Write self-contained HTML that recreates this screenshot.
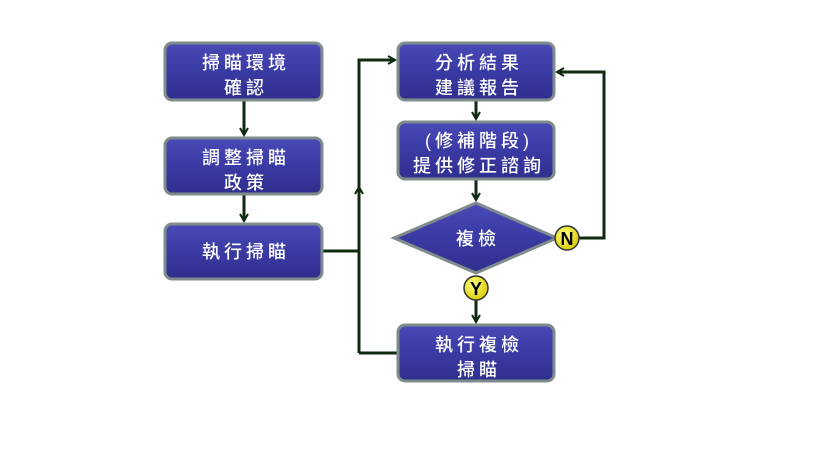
<!DOCTYPE html>
<html><head><meta charset="utf-8"><style>
html,body{margin:0;padding:0;background:#fff;width:819px;height:460px;overflow:hidden}
text{font-family:"Liberation Sans","Noto Sans CJK TC",sans-serif;font-size:18px;font-weight:500;fill:#fff;text-anchor:middle;letter-spacing:4px}
</style></head><body>
<svg width="819" height="460" viewBox="0 0 819 460" xmlns="http://www.w3.org/2000/svg">
<defs>
<linearGradient id="g" x1="0" y1="0" x2="0" y2="1">
<stop offset="0" stop-color="#4a4ab8"/><stop offset="0.5" stop-color="#3a3aa4"/><stop offset="1" stop-color="#2f2f8e"/>
</linearGradient>
<radialGradient id="y" cx="0.4" cy="0.35" r="0.7"><stop offset="0" stop-color="#ffff80"/><stop offset="1" stop-color="#d6c800"/></radialGradient>
<marker id="a" markerWidth="10" markerHeight="10" refX="8" refY="5" orient="auto" markerUnits="userSpaceOnUse">
<path d="M1,1 L8,5 L1,9" fill="none" stroke="#0f2a0f" stroke-width="2"/></marker>
</defs>
<g stroke="#0f2a0f" stroke-width="3" fill="none">
<path d="M244,101 V135" marker-end="url(#a)"/>
<path d="M244,195 V221" marker-end="url(#a)"/>
<path d="M322,251 H359"/>
<path d="M359,353 V60 H395" marker-end="url(#a)"/>
<path d="M359,200 V187" marker-end="url(#a)"/>
<path d="M397,353 H359"/>
<path d="M476,101 V119" marker-end="url(#a)"/>
<path d="M476,180 V200" marker-end="url(#a)"/>
<path d="M476,300 V322" marker-end="url(#a)"/>
<path d="M579,238 H604 V72 H557" marker-end="url(#a)"/>
</g>
<g stroke="#7f8c8c" stroke-width="3" fill="url(#g)">
<rect x="165" y="43" width="157" height="57" rx="7"/>
<rect x="165" y="138" width="157" height="56" rx="7"/>
<rect x="165" y="224" width="157" height="55" rx="7"/>
<rect x="398" y="43" width="156" height="57" rx="7"/>
<rect x="398" y="122" width="156" height="57" rx="7"/>
<rect x="398" y="325" width="156" height="56" rx="7"/>
<path d="M476,203 L557,238 L476,273 L394,238 Z"/>
</g>
<text x="246" y="69">掃瞄環境</text><text x="246" y="94">確認</text>
<text x="246" y="164">調整掃瞄</text><text x="246" y="189">政策</text>
<text x="246" y="258">執行掃瞄</text>
<text x="479" y="69">分析結果</text><text x="479" y="94">建議報告</text>
<text x="479" y="147">(修補階段)</text><text x="479" y="172">提供修正諮詢</text>
<text x="478" y="245">複檢</text>
<text x="479" y="351">執行複檢</text><text x="479" y="376">掃瞄</text>
<g stroke="#333" stroke-width="1.5" fill="url(#y)">
<circle cx="567" cy="238" r="12"/><circle cx="476" cy="288" r="12"/>
</g>
<text x="567" y="245" style="fill:#000;font-size:18px;letter-spacing:0;font-weight:bold">N</text>
<text x="476" y="295" style="fill:#000;font-size:18px;letter-spacing:0;font-weight:bold">Y</text>
</svg>
</body></html>
